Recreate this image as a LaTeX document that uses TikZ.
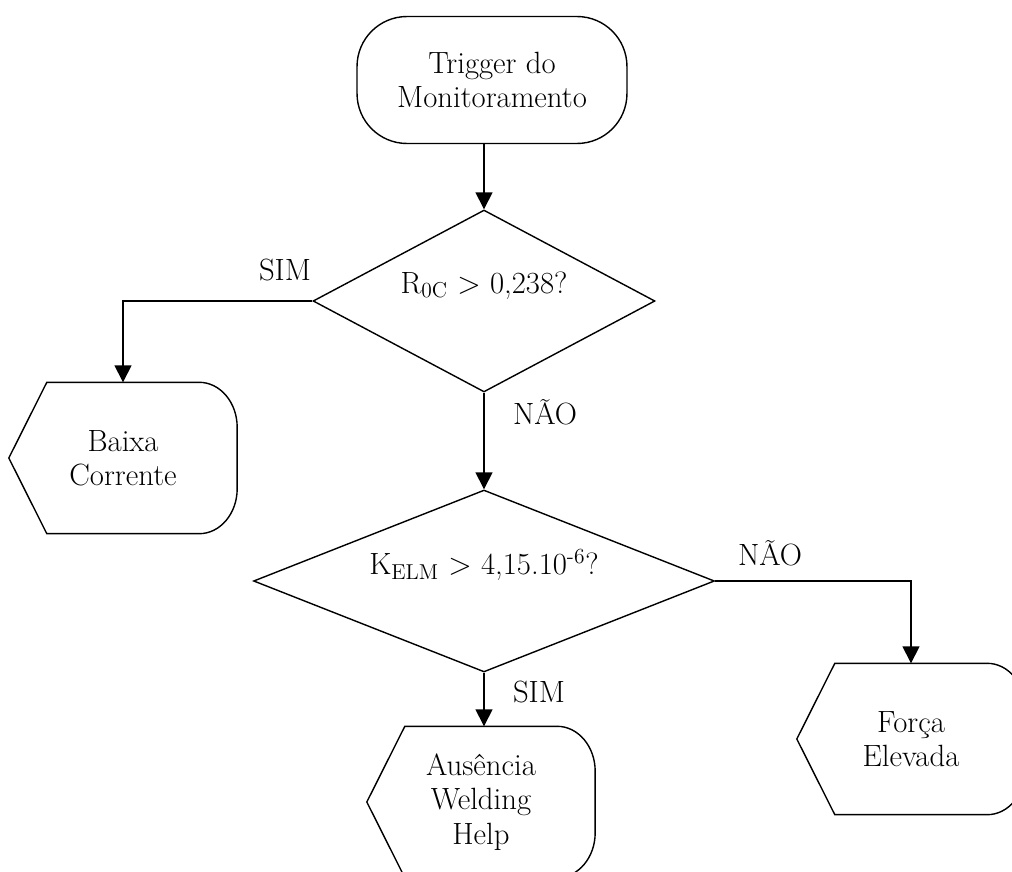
\documentclass[tikz,border=0pt]{standalone}
\usepackage{tikz}
\usetikzlibrary{shapes.geometric}
\usetikzlibrary{arrows.meta}

\tikzset{
  term/.style={draw,rectangle,rounded corners=1cm,minimum width=5.4cm,minimum height=2.54cm,align=center},
  decision/.style={draw,diamond,inner sep=1pt,minimum height=3.64cm,text depth=0.75cm},
  disp/.style={minimum width=4.54cm,minimum height=3cm,align=center},
  arr/.style={-{Triangle[length=0.34cm,width=0.34cm]}}
}

% outline of a display box around a named node
\newcommand{\displayline}[1]{%
  \draw (#1.west) -- ([xshift=0.76cm]#1.north west)
    -- ([xshift=-0.76cm]#1.north east)
    arc[start angle=90,end angle=0,x radius=0.76cm,y radius=0.9cm]
    -- ([yshift=0.9cm]#1.south east)
    arc[start angle=0,end angle=-90,x radius=0.76cm,y radius=0.9cm]
    -- ([xshift=0.76cm]#1.south west) -- cycle;}

\begin{document}
\begin{tikzpicture}[x=0.02cm,y=-0.02cm,line width=0.8pt,
  every node/.style={font=\fontsize{17.5}{19.5}\selectfont}]
  \useasboundingbox (0,0) rectangle (1012,872);

  \node[term] (start) at (492,80) {Trigger do\\Monitoramento};
  \node[decision,aspect=1.9,minimum width=6.84cm] (q1) at (484,301) {R\textsubscript{0C} > 0,238?};
  \node[decision,aspect=2.5,minimum width=9.22cm] (q2) at (484,581) {K\textsubscript{ELM} > 4,15.10\textsuperscript{-6}?};

  \node[disp] (baixa) at (123,458) {Baixa\\Corrente};
  \node[disp] (ausencia) at (481,802) {Ausência\\Welding\\Help};
  \node[disp] (forca) at (911,739) {Força\\Elevada};
  \displayline{baixa}
  \displayline{ausencia}
  \displayline{forca}

  \node (sim1) at (285,270) {SIM};
  \node (nao1) at (545,412) {NÃO};
  \node (nao2) at (770,553) {NÃO};
  \node (sim2) at (539,692) {SIM};

  \draw[arr] (q1.north |- start.south) -- (q1.north);
  \draw[arr] (q1.west) -| (baixa.north);
  \draw[arr] (q1.south) -- (q2.north);
  \draw[arr] (q2.east) -| (forca.north);
  \draw[arr] (q2.south) -- (q2.south |- ausencia.north);
\end{tikzpicture}
\end{document}
